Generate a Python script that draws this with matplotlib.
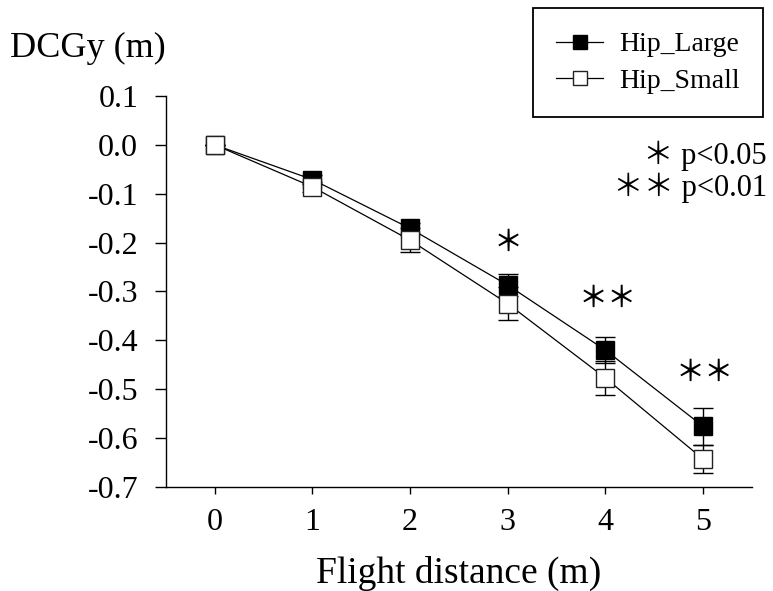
import matplotlib
matplotlib.use("agg")
import matplotlib.pyplot as plt
from matplotlib.lines import Line2D

plt.rcParams["font.family"] = ["Liberation Serif", "Noto Sans CJK JP"]

# data
distance = [0, 1, 2, 3, 4, 5]
hip_large = [0.0, -0.071, -0.171, -0.287, -0.420, -0.576]
hip_large_se = [0.0, 0.01, 0.012, 0.022, 0.027, 0.038]
hip_small = [0.0, -0.086, -0.195, -0.325, -0.477, -0.643]
hip_small_se = [0.0, 0.01, 0.025, 0.034, 0.034, 0.028]

# significance marks: (x, y, text)
sig_x = [3, 4, 5]
sig_y = [-0.199, -0.314, -0.465]
sig_text = ["＊", "＊＊", "＊＊"]

xticks = [0, 1, 2, 3, 4, 5]
yticks = [0.1, 0.0, -0.1, -0.2, -0.3, -0.4, -0.5, -0.6, -0.7]

fig = plt.figure(figsize=(7.73, 5.91), dpi=100)
ax = fig.add_axes([0.2147, 0.176, 0.758, 0.6616])

ax.errorbar(distance, hip_large, yerr=hip_large_se, color="black", lw=0.9,
            marker="s", ms=13.5, mfc="black", mec="black", mew=1.0,
            capsize=7, capthick=1.0, elinewidth=1.0, zorder=3)
ax.errorbar(distance, hip_small, yerr=hip_small_se, color="black", lw=0.9,
            marker="s", ms=13.5, mfc="white", mec="#222222", mew=1.0,
            capsize=7, capthick=1.0, elinewidth=1.0, zorder=4)

for x, y, t in zip(sig_x, sig_y, sig_text):
    ax.text(x + (0.02 if len(t) > 1 else 0), y, t, ha="center", va="center",
            fontsize=21, family=["Noto Sans CJK JP"], fontweight="medium")

ax.set_xlim(-0.5, 5.5)
ax.set_ylim(-0.7, 0.1)
ax.set_xticks(xticks)
ax.set_yticks(yticks)
ax.set_yticklabels([f"{v:.1f}" for v in yticks])
ax.tick_params(axis="both", labelsize=23, width=1.0, direction="out")
ax.tick_params(axis="y", length=8, pad=12)
ax.tick_params(axis="x", length=5, pad=10)
for s in ["top", "right"]:
    ax.spines[s].set_visible(False)
for s in ["left", "bottom"]:
    ax.spines[s].set_linewidth(1.0)

ax.set_xlabel("Flight distance (m)", fontsize=27, labelpad=14)
fig.text(0.013, 0.918, "DCGy (m)", fontsize=26, va="center", ha="left")

fig.text(0.992, 0.737, "＊ p<0.05", fontsize=22, ha="right", va="center")
fig.text(0.992, 0.683, "＊＊ p<0.01", fontsize=22, ha="right", va="center")

handles = [
    Line2D([], [], color="black", lw=0.9, marker="s", ms=10.5,
           mfc="black", mec="black", mew=1.0),
    Line2D([], [], color="black", lw=0.9, marker="s", ms=10.5,
           mfc="white", mec="#222222", mew=1.0),
]
leg = ax.legend(handles, ["Hip_Large", "Hip_Small"], loc="upper right",
                bbox_to_anchor=(0.987, 0.986), bbox_transform=fig.transFigure,
                borderaxespad=0, fontsize=20, handlelength=1.7,
                fancybox=False, framealpha=1, edgecolor="black",
                borderpad=0.85, labelspacing=0.4, handletextpad=0.55)
leg.get_frame().set_linewidth(1.3)

fig.savefig("out.png", dpi=100)
